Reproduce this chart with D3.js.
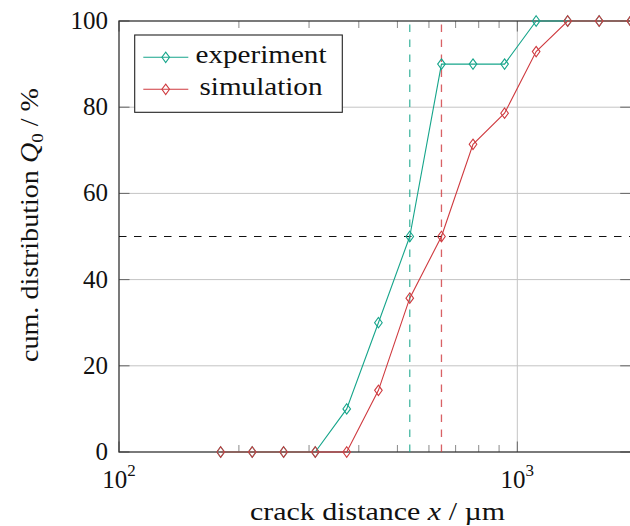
<!DOCTYPE html>
<html>
<head>
<meta charset="utf-8">
<script src="https://cdn.jsdelivr.net/npm/d3@7"></script>
<style>
  html, body { margin: 0; padding: 0; background: #fff; }
</style>
</head>
<body>
<svg id="chart" width="630" height="526" font-family="'Liberation Serif', serif" style="display:block"></svg>
<script>
// Crack distance bins (µm) and cumulative distributions (%)
const crackDistance = [180, 216, 259, 311, 373, 448, 537, 645, 774, 929, 1115, 1338, 1605, 1926];
const experiment    = [0, 0, 0, 0, 10, 30, 50, 90, 90, 90, 100, 100, 100, 100];
const simulation    = [0, 0, 0, 0, 0, 14.3, 35.7, 50, 71.4, 78.6, 92.9, 100, 100, 100];

// Median crack distances (Q0 = 50 %)
const medianExperiment = 537;
const medianSimulation = 645;
const medianLevel = 50;

// Axis ticks
const yTicks = [0, 20, 40, 60, 80, 100];
const yGrid = [20, 40, 60, 80];
const xMajorTicks = [100, 1000];
const xMinorTicks = [200, 300, 400, 500, 600, 700, 800, 900];
const xGrid = [1000];
const xTickExponents = ["2", "3"];

const seriesNames = ["experiment", "simulation"];
const teal = "#16a58b";
const red = "#cf3a3f";
const serif = "Liberation Serif";

const svg = d3.select("#chart");

const plotLeft = 119, plotRight = 630.7, plotTop = 21, plotBottom = 452;
const x = d3.scaleLog().domain([100, 1926]).range([plotLeft, plotRight]);
const y = d3.scaleLinear().domain([0, 100]).range([plotBottom, plotTop]);

// grid
svg.append("g").selectAll("line").data(yGrid).join("line")
  .attr("x1", plotLeft).attr("x2", plotRight)
  .attr("y1", d => y(d)).attr("y2", d => y(d))
  .attr("stroke", "#c4c4c4").attr("stroke-width", 1);
svg.append("g").selectAll("line").data(xGrid).join("line")
  .attr("x1", d => x(d)).attr("x2", d => x(d))
  .attr("y1", plotTop).attr("y2", plotBottom)
  .attr("stroke", "#c4c4c4").attr("stroke-width", 1);

// ticks (pointing inward, on all four sides)
const majorLen = 10.5, minorLen = 7;
const tickG = svg.append("g");
xMinorTicks.forEach(t => {
  tickG.append("line").attr("x1", x(t)).attr("x2", x(t)).attr("y1", plotBottom).attr("y2", plotBottom - minorLen)
    .attr("stroke", "#8a8a8a").attr("stroke-width", 1);
  tickG.append("line").attr("x1", x(t)).attr("x2", x(t)).attr("y1", plotTop).attr("y2", plotTop + minorLen)
    .attr("stroke", "#8a8a8a").attr("stroke-width", 1);
});
xMajorTicks.forEach(t => {
  tickG.append("line").attr("x1", x(t)).attr("x2", x(t)).attr("y1", plotBottom).attr("y2", plotBottom - majorLen)
    .attr("stroke", "#666").attr("stroke-width", 1);
  tickG.append("line").attr("x1", x(t)).attr("x2", x(t)).attr("y1", plotTop).attr("y2", plotTop + majorLen)
    .attr("stroke", "#666").attr("stroke-width", 1);
});
yTicks.forEach(t => {
  tickG.append("line").attr("x1", plotLeft).attr("x2", plotLeft + majorLen).attr("y1", y(t)).attr("y2", y(t))
    .attr("stroke", "#666").attr("stroke-width", 1);
  tickG.append("line").attr("x1", plotRight).attr("x2", plotRight - majorLen).attr("y1", y(t)).attr("y2", y(t))
    .attr("stroke", "#666").attr("stroke-width", 1);
});

// axis frame
svg.append("rect").attr("x", plotLeft).attr("y", plotTop)
  .attr("width", plotRight - plotLeft).attr("height", plotBottom - plotTop)
  .attr("fill", "none").attr("stroke", "#333").attr("stroke-width", 1.3);

// tick labels
svg.append("g").selectAll("text").data(yTicks).join("text")
  .attr("x", 108).attr("y", d => y(d) + 8)
  .attr("text-anchor", "end").attr("font-family", serif).attr("font-size", 25).attr("fill", "#111")
  .text(d => d);

xMajorTicks.forEach((t, i) => {
  const txt = svg.append("text").attr("x", x(t)).attr("y", 488)
    .attr("text-anchor", "middle").attr("font-family", serif).attr("font-size", 25).attr("fill", "#111");
  txt.append("tspan").text("10");
  txt.append("tspan").attr("dy", -12).attr("font-size", 17).text(xTickExponents[i]);
});

// dashed median guides
const dash = "7.5 7.5";
svg.append("line").attr("x1", plotLeft).attr("x2", plotRight)
  .attr("y1", y(medianLevel)).attr("y2", y(medianLevel))
  .attr("stroke", "#111").attr("stroke-width", 1.2).attr("stroke-dasharray", dash);
svg.append("line").attr("x1", x(medianExperiment)).attr("x2", x(medianExperiment))
  .attr("y1", y(0)).attr("y2", y(100))
  .attr("stroke", teal).attr("stroke-opacity", 0.8).attr("stroke-width", 1.3).attr("stroke-dasharray", dash);
svg.append("line").attr("x1", x(medianSimulation)).attr("x2", x(medianSimulation))
  .attr("y1", y(0)).attr("y2", y(100))
  .attr("stroke", red).attr("stroke-opacity", 0.8).attr("stroke-width", 1.3).attr("stroke-dasharray", dash);

// series
const diamond = (g, cx, cy, color) => {
  const hw = 3.8, hh = 5.2;
  g.append("path")
    .attr("d", `M${cx},${cy - hh}L${cx + hw},${cy}L${cx},${cy + hh}L${cx - hw},${cy}Z`)
    .attr("fill", "none").attr("stroke", color).attr("stroke-width", 1.1);
};

const line = d3.line().x(d => x(d[0])).y(d => y(d[1]));
[[experiment, teal], [simulation, red]].forEach(([vals, color]) => {
  const pts = crackDistance.map((c, i) => [c, vals[i]]);
  const g = svg.append("g");
  g.append("path").datum(pts).attr("d", line)
    .attr("fill", "none").attr("stroke", color).attr("stroke-width", 1.1);
  pts.forEach(p => diamond(g, x(p[0]), y(p[1]), color));
});

// legend
const lg = svg.append("g");
lg.append("rect").attr("x", 134.7).attr("y", 35).attr("width", 207.6).attr("height", 77.3)
  .attr("fill", "#fff").attr("stroke", "#222").attr("stroke-width", 1.1);
[[seriesNames[0], teal, 57.3, 131], [seriesNames[1], red, 89.3, 123]].forEach(([name, color, ly, len]) => {
  lg.append("line").attr("x1", 143.3).attr("x2", 188.3).attr("y1", ly).attr("y2", ly)
    .attr("stroke", color).attr("stroke-width", 1.1);
  diamond(lg, 165.7, ly, color);
  lg.append("text").attr("x", 261).attr("y", ly + 6)
    .attr("text-anchor", "middle").attr("font-family", serif).attr("font-size", 26).attr("fill", "#111")
    .attr("textLength", len).attr("lengthAdjust", "spacingAndGlyphs")
    .text(name);
});

// axis titles
const xt = svg.append("text").attr("x", 377.5).attr("y", 520)
  .attr("text-anchor", "middle").attr("font-family", serif).attr("font-size", 25).attr("fill", "#111")
  .attr("textLength", 255).attr("lengthAdjust", "spacingAndGlyphs");
xt.append("tspan").text("crack distance ");
xt.append("tspan").attr("font-style", "italic").text("x");
xt.append("tspan").text(" / µm");

const yt = svg.append("text").attr("transform", "translate(37.7,225) rotate(-90)")
  .attr("text-anchor", "middle").attr("font-family", serif).attr("font-size", 25).attr("fill", "#111")
  .attr("textLength", 274).attr("lengthAdjust", "spacingAndGlyphs");
yt.append("tspan").text("cum. distribution ");
yt.append("tspan").attr("font-style", "italic").text("Q");
yt.append("tspan").attr("font-size", 17).attr("dy", 5).text("0");
yt.append("tspan").attr("dy", -5).text(" / %");
</script>
</body>
</html>
